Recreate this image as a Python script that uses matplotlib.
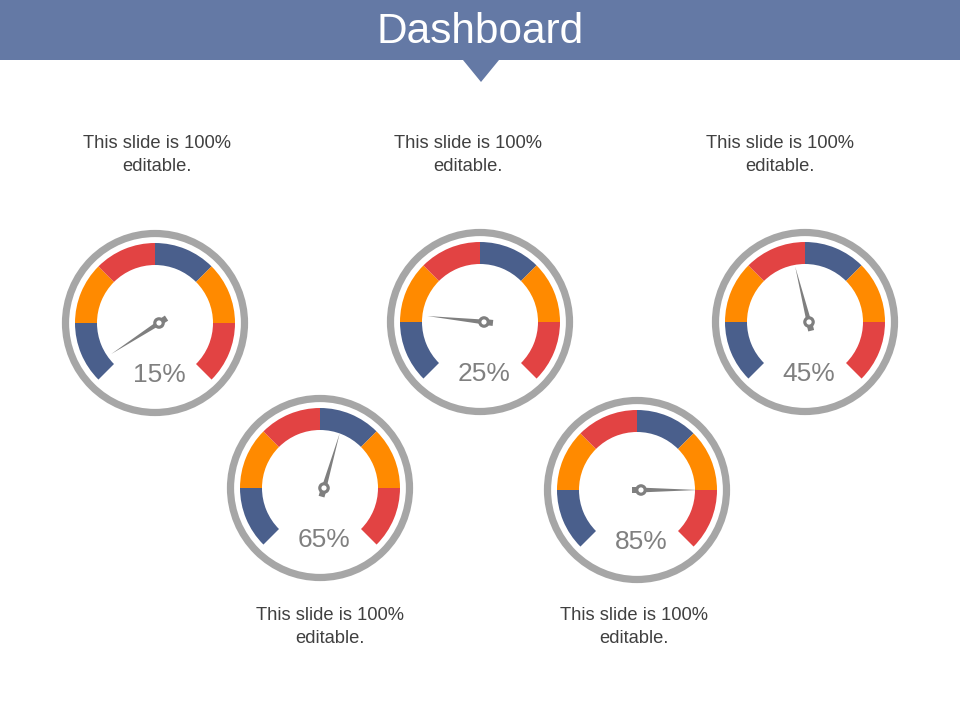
import numpy as np
import matplotlib
matplotlib.use('Agg')
import matplotlib.pyplot as plt
from matplotlib.patches import Wedge, Circle, Polygon, Rectangle

plt.rcParams['font.family'] = ['Liberation Sans', 'DejaVu Sans']

# data
values = [15, 25, 45, 65, 85]
needle_deg = [213, 174, 104, 74, 0]          # needle direction, degrees ccw from east
seg_colors = ['#4A5F8C', '#FF8A00', '#E24343', '#4A5F8C', '#FF8A00', '#E24343']
captions = ['This slide is 100%\neditable.'] * 5

# layout (pixels, y down)
centers = [(155, 323), (480, 322), (805, 322), (320, 488), (637, 490)]
caption_pos = [(157, 155), (468, 155), (780, 155), (330, 627), (634, 627)]
H = 720

fig = plt.figure(figsize=(9.6, 7.2), dpi=100)
ax = fig.add_axes([0, 0, 1, 1])
ax.set_xlim(0, 960)
ax.set_ylim(0, H)
ax.set_aspect('equal')
ax.axis('off')


def yy(y):
    return H - y


# header bar with pointer
bar_col = '#6479A5'
ax.add_patch(Rectangle((0, yy(60)), 960, 60, color=bar_col, lw=0))
ax.add_patch(Polygon([(463, yy(60)), (499, yy(60)), (481, yy(82))],
                     closed=True, color=bar_col, lw=0))
ax.text(480, yy(32), 'Dashboard', color='white', fontsize=30.5,
        ha='center', va='center')

for (cx, cy), val, ang in zip(centers, values, needle_deg):
    y0 = yy(cy)
    # outer grey ring
    ax.add_patch(Circle((cx, y0), 89.5, fill=False, ec='#A6A6A6', lw=5.2))
    # coloured segments, 225 deg down to -45 deg
    for i, col in enumerate(seg_colors):
        t2 = 225 - 45 * i
        t1 = t2 - 45
        ax.add_patch(Wedge((cx, y0), 80, t1, t2, width=22, color=col, lw=0))
    # needle
    px, py = cx + 4, y0
    a = np.deg2rad(ang)
    d = np.array([np.cos(a), np.sin(a)])
    n = np.array([-d[1], d[0]])
    p = np.array([px, py])
    tip = p + 57 * d
    ax.add_patch(Polygon([tip, p + 2.4 * n, p - 2.4 * n], closed=True,
                         color='#7F7F7F', lw=0))
    tail = [p - 3 * d + 3 * n, p - 9 * d + 3 * n, p - 9 * d - 3 * n, p - 3 * d - 3 * n]
    ax.add_patch(Polygon(tail, closed=True, color='#7F7F7F', lw=0))
    ax.add_patch(Circle((px, py), 5.8, color='#7F7F7F', lw=0))
    ax.add_patch(Circle((px, py), 2.6, color='white', lw=0))
    ax.text(cx + 4, yy(cy + 52), f'{val}%', color='#808080', fontsize=19,
            ha='center', va='center')

for (x, y), txt in zip(caption_pos, captions):
    ax.text(x, yy(y), txt, color='#404040', fontsize=13.2, ha='center',
            va='center', linespacing=1.5)

fig.savefig('out.png', dpi=100)
